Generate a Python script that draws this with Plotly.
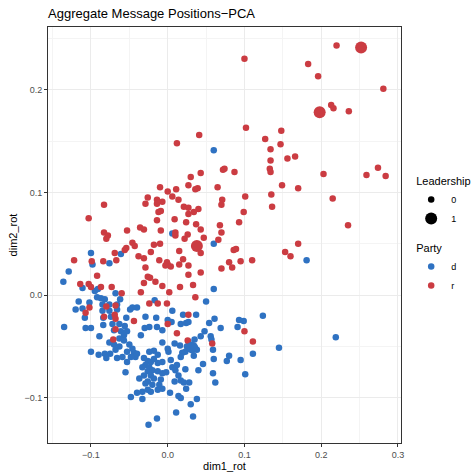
import plotly.graph_objects as go
import numpy as np

# ── Colors ────────────────────────────────────────────────────────────────────
DEM_BLUE = "#2F72C2"
REP_RED = "#CB3C42"
GRID = "#EBEBEB"
GRID_MINOR = "#F4F4F4"
BORDER = "#333333"
TICK_TXT = "#4D4D4D"
FONT = "Liberation Sans, Arial, sans-serif"

# ── Data: Party d, Leadership 0 ───────────────────────────────────────────────
dem_x = [0.060, 0.006, 0.060, 0.181, -0.061, -0.076, -0.100, -0.098, -0.129,
         -0.136, -0.111, -0.095, -0.091, -0.068, -0.062, -0.092, -0.087, -0.082, -0.116,
         -0.102, -0.120, -0.111, -0.085, -0.076, -0.066, -0.085, -0.076, -0.066, -0.049,
         -0.040, -0.046, -0.017, -0.108, -0.084, -0.074, -0.054, -0.029, -0.015, -0.084,
         -0.072, -0.063, -0.056, -0.135, -0.107, -0.100, -0.070, -0.061, -0.053, -0.057,
         -0.030, -0.024, -0.014, -0.007, -0.089, -0.035, -0.063, -0.057, -0.076, -0.070,
         -0.063, -0.068, -0.050, -0.046, -0.053, -0.007, -0.100, -0.090, -0.082, -0.075,
         -0.080, -0.066, -0.059, -0.044, -0.040, -0.042, -0.048, -0.053, -0.055, -0.040,
         -0.033, -0.048, -0.033, -0.014, -0.025,
         -0.031, -0.026, -0.022, -0.029, -0.024, -0.033, -0.018, -0.013, -0.007, -0.026,
         -0.020, -0.013, -0.007, -0.031, -0.022, -0.018, -0.009, -0.026, -0.029, -0.020,
         -0.013, -0.022, -0.026, -0.037, -0.011, -0.007, -0.018, -0.024, -0.013,
         0.060, 0.050, 0.006, 0.020, 0.037, 0.000, 0.005, 0.017, 0.024, 0.027,
         0.054, 0.061, 0.093, 0.099, 0.091, 0.124, 0.069, 0.048, 0.043, 0.056,
         0.057, 0.035, 0.009, 0.016, 0.000, 0.001, 0.025, 0.038, 0.023, 0.019,
         0.017, 0.034, 0.027, 0.059, 0.080, 0.077, 0.060, 0.095, 0.111, 0.145,
         0.004, 0.046, 0.006, 0.012, 0.010, -0.002, 0.023, 0.040, 0.059, 0.101,
         0.014, 0.009, 0.017, 0.021, 0.028, 0.062, 0.024, 0.003, 0.014, 0.017,
         0.038, 0.030, 0.011, 0.033, 0.219]
dem_y = [0.141, 0.060, 0.050, 0.034, 0.040, 0.031, 0.041, 0.030, 0.023,
         0.013, 0.007, 0.004, 0.006, 0.002, -0.004, -0.002, -0.003, -0.004, -0.006,
         -0.007, -0.014, -0.013, -0.009, -0.009, -0.009, -0.015, -0.015, -0.014, -0.014,
         -0.012, -0.012, -0.005, -0.022, -0.022, -0.021, -0.022, -0.021, -0.022, -0.029,
         -0.028, -0.028, -0.030, -0.031, -0.032, -0.032, -0.034, -0.035, -0.035, -0.039,
         -0.032, -0.031, -0.031, -0.034, -0.040, -0.039, -0.042, -0.044, -0.046, -0.048,
         -0.050, -0.053, -0.048, -0.052, -0.055, -0.046, -0.055, -0.058, -0.057, -0.057,
         -0.061, -0.061, -0.060, -0.056, -0.057, -0.060, -0.060, -0.065, -0.075, -0.095,
         -0.094, -0.099, -0.101, -0.120, -0.126,
         -0.061, -0.064, -0.065, -0.068, -0.070, -0.070, -0.062, -0.066, -0.065, -0.074,
         -0.073, -0.074, -0.076, -0.078, -0.078, -0.081, -0.082, -0.084, -0.086, -0.087,
         -0.092, -0.094, -0.092, -0.081, -0.087, -0.091, -0.054, -0.055, -0.058,
         0.006, -0.006, -0.015, -0.019, -0.019, -0.024, -0.026, -0.028, -0.027, -0.026,
         -0.027, -0.023, -0.024, -0.025, -0.031, -0.020, -0.032, -0.035, -0.040, -0.040,
         -0.043, -0.043, -0.047, -0.049, -0.052, -0.055, -0.050, -0.053, -0.055, -0.056,
         -0.060, -0.059, -0.045, -0.053, -0.059, -0.064, -0.062, -0.063, -0.057, -0.051,
         -0.063, -0.067, -0.070, -0.068, -0.073, -0.075, -0.072, -0.073, -0.076, -0.077,
         -0.078, -0.084, -0.083, -0.085, -0.085, -0.085, -0.091, -0.095, -0.098, -0.100,
         -0.101, -0.106, -0.114, -0.118, -0.041]

# ── Data: Party r, Leadership 0 ───────────────────────────────────────────────
rep_x = [0.012, 0.041, 0.100, 0.220, 0.183, 0.196, 0.281, 0.213, 0.216, 0.236,
         0.102, 0.148, 0.127, 0.147, 0.134, 0.134, 0.156, 0.166, 0.274,
         0.133, 0.134, 0.072, 0.074, 0.087, 0.043, 0.030, 0.027, 0.065, 0.036,
         0.039, 0.011, 0.000, 0.149, 0.006, 0.101, 0.135, 0.014, 0.071, 0.070,
         0.136, 0.021, 0.027, 0.040, 0.034, 0.027, 0.099, 0.009, 0.024, 0.093,
         0.037, 0.068, 0.043, 0.010, 0.070, 0.026, 0.010, 0.047, 0.022, 0.066,
         0.043, 0.086, 0.089, 0.015, 0.020, 0.095, 0.110, -0.001, 0.000, 0.015,
         0.080, 0.004, 0.027, 0.084, 0.070, 0.043, 0.027,
         0.203, 0.259, 0.284, 0.170, 0.215, 0.235, 0.170, 0.153, 0.160,
         -0.010, -0.026, -0.029, -0.014, -0.007, -0.014, -0.012, -0.009, -0.014, -0.009,
         -0.036, -0.031, -0.083, -0.103, -0.083, -0.078, -0.080, -0.053, -0.046, -0.043,
         -0.054, -0.056, -0.018, -0.010, -0.022, -0.038, -0.031, -0.069, -0.067, -0.084,
         -0.099, -0.122, -0.011, -0.029, -0.003,
         -0.092, -0.114, -0.103, -0.100, -0.087, -0.073, -0.031, -0.026, -0.023, -0.016,
         -0.007, -0.035, -0.060, -0.024, -0.013, -0.102, -0.107, -0.080, -0.068, -0.083,
         -0.069, -0.068, -0.044, -0.068, -0.071,
         0.002, 0.016, 0.033, 0.036, -0.001, 0.027, 0.000, 0.012, 0.026, 0.058,
         0.100, 0.111]
rep_y = [0.148, 0.156, 0.230, 0.243, 0.225, 0.213, 0.201, 0.185, 0.182, 0.179,
         0.163, 0.160, 0.152, 0.147, 0.142, 0.131, 0.133, 0.135, 0.124,
         0.123, 0.120, 0.122, 0.123, 0.120, 0.119, 0.115, 0.107, 0.105, 0.103,
         0.104, 0.103, 0.101, 0.107, 0.096, 0.096, 0.098, 0.093, 0.093, 0.088,
         0.086, 0.086, 0.085, 0.084, 0.081, 0.079, 0.081, 0.074, 0.071, 0.071,
         0.069, 0.068, 0.064, 0.061, 0.061, 0.059, 0.058, 0.056, 0.055, 0.054,
         0.041, 0.044, 0.045, 0.043, 0.035, 0.033, 0.034, 0.032, 0.030, 0.030,
         0.032, 0.028, 0.029, 0.027, 0.026, 0.022, 0.020,
         0.118, 0.117, 0.116, 0.104, 0.094, 0.068, 0.050, 0.042, 0.038,
         0.105, 0.095, 0.089, 0.093, 0.091, 0.089, 0.081, 0.082, 0.073, 0.063,
         0.066, 0.064, 0.088, 0.075, 0.061, 0.058, 0.055, 0.063, 0.051, 0.048,
         0.046, 0.044, 0.049, 0.050, 0.042, 0.038, 0.036, 0.041, 0.034, 0.033,
         0.033, 0.034, 0.034, 0.027, 0.029,
         0.019, 0.011, 0.011, 0.008, 0.008, 0.008, 0.012, 0.018, 0.017, 0.013,
         0.009, 0.003, 0.002, -0.008, -0.008, -0.012, -0.017, -0.011, -0.010, -0.021,
         -0.019, -0.023, -0.025, -0.033, -0.043,
         0.003, 0.008, 0.010, -0.002, -0.008, -0.019, -0.028, -0.037, -0.044, -0.047,
         -0.035, -0.045]

# ── Data: Leadership 1 ────────────────────────────────────────────────────────
lead_x = [0.032, 0.252, 0.198, 0.038]
lead_y = [-0.051, 0.241, 0.178, 0.048]
lead_party = ["d", "r", "r", "r"]

SMALL = 6.5
BIG = 12

fig = go.Figure()

fig.add_trace(go.Scatter(x=dem_x, y=dem_y, mode="markers", showlegend=False,
                         marker=dict(color=DEM_BLUE, size=SMALL, line=dict(width=0))))
fig.add_trace(go.Scatter(x=rep_x, y=rep_y, mode="markers", showlegend=False,
                         marker=dict(color=REP_RED, size=SMALL, line=dict(width=0))))

lead_party = np.array(lead_party)
for party, color in (("d", DEM_BLUE), ("r", REP_RED)):
    m = lead_party == party
    fig.add_trace(go.Scatter(x=np.array(lead_x)[m], y=np.array(lead_y)[m], mode="markers",
                             showlegend=False,
                             marker=dict(color=color, size=BIG, line=dict(width=0))))

# legend-only entries
for lbl, sz in (("0", SMALL), ("1", BIG)):
    fig.add_trace(go.Scatter(x=[None], y=[None], mode="markers", name=lbl,
                             legendgroup="lead", legendgrouptitle_text="Leadership",
                             marker=dict(color="black", size=sz)))
for lbl, color in (("d", DEM_BLUE), ("r", REP_RED)):
    fig.add_trace(go.Scatter(x=[None], y=[None], mode="markers", name=lbl,
                             legendgroup="party", legendgrouptitle_text="Party",
                             marker=dict(color=color, size=SMALL)))

axis_common = dict(
    showgrid=True, gridcolor=GRID, gridwidth=1,
    minor=dict(showgrid=True, gridcolor=GRID_MINOR, gridwidth=0.6),
    zeroline=False, showline=True, linecolor=BORDER, linewidth=1, mirror=True,
    ticks="outside", ticklen=3, tickcolor=BORDER, tickformat=".1f", dtick=0.1,
    tickfont=dict(size=9, color=TICK_TXT, family=FONT), automargin=False,
)

fig.update_layout(
    width=471, height=472,
    paper_bgcolor="white", plot_bgcolor="white",
    font=dict(family=FONT, color="black"),
    margin=dict(l=48, r=70, t=27, b=29),
    title=dict(text="Aggregate Message Positions\u2212PCA", xref="paper", x=0, xanchor="left",
               yref="container", y=0.972, yanchor="middle", font=dict(size=13, color="black")),
    legend=dict(xref="container", x=0.873, xanchor="left", y=0.505, yanchor="middle",
                font=dict(size=9), grouptitlefont=dict(size=11),
                tracegroupgap=10, itemsizing="trace", itemwidth=30,
                bgcolor="rgba(0,0,0,0)"),
)
fig.update_xaxes(range=[-0.156, 0.304], minor_dtick=0.05,
                 title=dict(text="dim1_rot", font=dict(size=11), standoff=2), **axis_common)
fig.update_yaxes(range=[-0.1438, 0.261], minor_dtick=0.05,
                 title=dict(text="dim2_rot", font=dict(size=11), standoff=4), **axis_common)

# drop the browser's default body margin so the figure fills the 471x472 window
page_fix = "document.body.style.margin='0';document.body.style.overflow='hidden';"

fig.write_html("out.html", post_script=page_fix, config={"displayModeBar": False})
